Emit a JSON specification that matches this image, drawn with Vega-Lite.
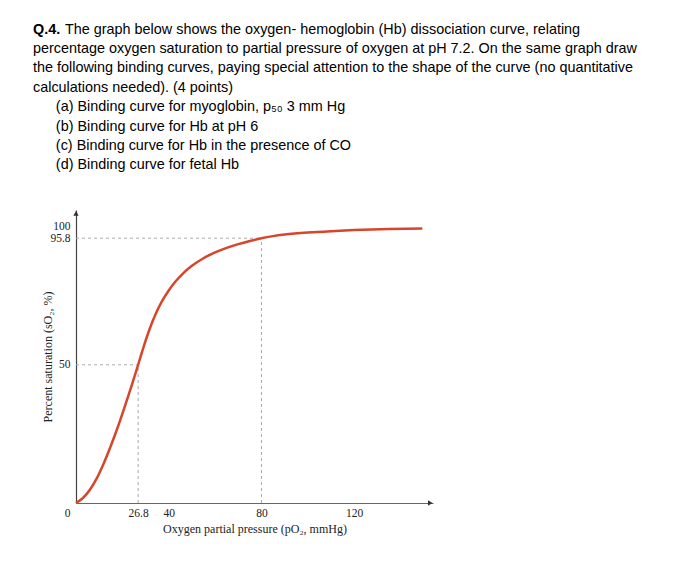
{
  "$schema": "https://vega.github.io/schema/vega-lite/v6.json",
  "width": 357,
  "height": 293,
  "autosize": {"type": "none"},
  "padding": {"left": 76, "top": 210, "right": 267, "bottom": 77},
  "background": "white",
  "config": {"view": {"stroke": null}},
  "title": {
    "text": ["Q.4."],
    "subtitle": [
      "\u200b\u00a0\u00a0\u00a0\u00a0\u00a0\u00a0\u00a0\u00a0The graph below shows the oxygen- hemoglobin (Hb) dissociation curve, relating",
      "percentage oxygen saturation to partial pressure of oxygen at pH 7.2. On the same graph draw",
      "the following binding curves, paying special attention to the shape of the curve (no quantitative",
      "calculations needed). (4 points)",
      "\u200b\u00a0\u00a0\u00a0\u00a0\u00a0\u2009(a) Binding curve for myoglobin, p\u2085\u2080 3 mm Hg",
      "\u200b\u00a0\u00a0\u00a0\u00a0\u00a0\u2009(b) Binding curve for Hb at pH 6",
      "\u200b\u00a0\u00a0\u00a0\u00a0\u00a0\u2009(c) Binding curve for Hb in the presence of CO",
      "\u200b\u00a0\u00a0\u00a0\u00a0\u00a0\u2009(d) Binding curve for fetal Hb"
    ],
    "anchor": "start",
    "frame": "group",
    "dx": -43,
    "offset": 37,
    "font": "Liberation Sans",
    "fontSize": 14.4,
    "fontWeight": "bold",
    "color": "#000000",
    "lineHeight": 19.4,
    "subtitleFont": "Liberation Sans",
    "subtitleFontSize": 14.4,
    "subtitleFontWeight": "normal",
    "subtitleColor": "#000000",
    "subtitleLineHeight": 19.4,
    "subtitlePadding": -14.5
  },
  "encoding": {
    "x": {
      "field": "x",
      "type": "quantitative",
      "scale": {"domain": [0, 154], "nice": false, "zero": true},
      "axis": {
        "values": [0, 26.8, 40, 80, 120],
        "labelExpr": "'' + datum.value",
        "ticks": false,
        "grid": false,
        "domainColor": "#666666",
        "domainWidth": 1.2,
        "labelFont": "Liberation Serif",
        "labelFontSize": 11.5,
        "labelColor": "#222222",
        "labelPadding": 4,
        "labelFlush": false,
        "labelOverlap": false,
        "labelAlign": {"condition": {"test": "datum.value === 0", "value": "right"}, "value": "center"},
        "labelOffset": {"condition": {"test": "datum.value === 0", "value": -6}, "value": 0},
        "title": "Oxygen partial pressure (pO\u2082, mmHg)",
        "titleFont": "Liberation Serif",
        "titleFontSize": 12,
        "titleFontWeight": "normal",
        "titleColor": "#222222",
        "titlePadding": 5
      }
    },
    "y": {
      "field": "y",
      "type": "quantitative",
      "scale": {"domain": [0, 106], "nice": false, "zero": true},
      "axis": {
        "values": [50, 95.8, 100],
        "labelExpr": "'' + datum.value",
        "ticks": false,
        "grid": false,
        "domainColor": "#444444",
        "domainWidth": 1.2,
        "labelFont": "Liberation Serif",
        "labelFontSize": 11.5,
        "labelColor": "#222222",
        "labelPadding": 6,
        "labelOverlap": false,
        "labelFlush": false,
        "title": "Percent saturation (sO\u2082, %)",
        "titleFont": "Liberation Serif",
        "titleFontSize": 12,
        "titleFontWeight": "normal",
        "titleColor": "#222222",
        "titlePadding": -5
      }
    }
  },
  "layer": [
    {
      "data": {
        "values": [
          {"x": 0, "x2": 80, "y": 95.8, "y2": 95.8},
          {"x": 80, "x2": 80, "y": 0, "y2": 95.8},
          {"x": 0, "x2": 26.8, "y": 50, "y2": 50},
          {"x": 26.8, "x2": 26.8, "y": 0, "y2": 50}
        ]
      },
      "mark": {"type": "rule", "color": "#aaaaaa", "strokeWidth": 1, "strokeDash": [3, 3]},
      "encoding": {
        "x2": {"field": "x2"},
        "y2": {"field": "y2"}
      }
    },
    {
      "data": {
        "values": [
          {"x": 0, "y": 0},
          {"x": 3, "y": 1.8},
          {"x": 6, "y": 4.8},
          {"x": 9, "y": 9.0},
          {"x": 12, "y": 14.4},
          {"x": 15, "y": 20.6},
          {"x": 18, "y": 27.4},
          {"x": 21, "y": 34.8},
          {"x": 24, "y": 42.5},
          {"x": 26.8, "y": 50},
          {"x": 29, "y": 56.05},
          {"x": 31, "y": 61.15},
          {"x": 33, "y": 65.65},
          {"x": 35, "y": 69.55},
          {"x": 37, "y": 72.85},
          {"x": 40, "y": 76.9},
          {"x": 43, "y": 80.2},
          {"x": 46, "y": 82.9},
          {"x": 50, "y": 85.8},
          {"x": 55, "y": 88.55},
          {"x": 60, "y": 90.65},
          {"x": 65, "y": 92.3},
          {"x": 70, "y": 93.65},
          {"x": 75, "y": 94.8},
          {"x": 80, "y": 95.8},
          {"x": 85, "y": 96.55},
          {"x": 90, "y": 97.1},
          {"x": 100, "y": 97.85},
          {"x": 110, "y": 98.35},
          {"x": 120, "y": 98.72},
          {"x": 135, "y": 99.1},
          {"x": 149.4, "y": 99.32}
        ]
      },
      "mark": {"type": "line", "color": "#d5462b", "strokeWidth": 2.5, "interpolate": "monotone"},
      "encoding": {}
    },
    {
      "data": {
        "values": [
          {"x": 0, "y": 104.5, "angle": 0},
          {"x": 152.5, "y": 0, "angle": 90}
        ]
      },
      "mark": {"type": "point", "shape": "triangle", "filled": true, "color": "#333333", "opacity": 1, "size": 28},
      "encoding": {
        "angle": {"field": "angle", "type": "quantitative", "scale": null}
      }
    }
  ]
}
